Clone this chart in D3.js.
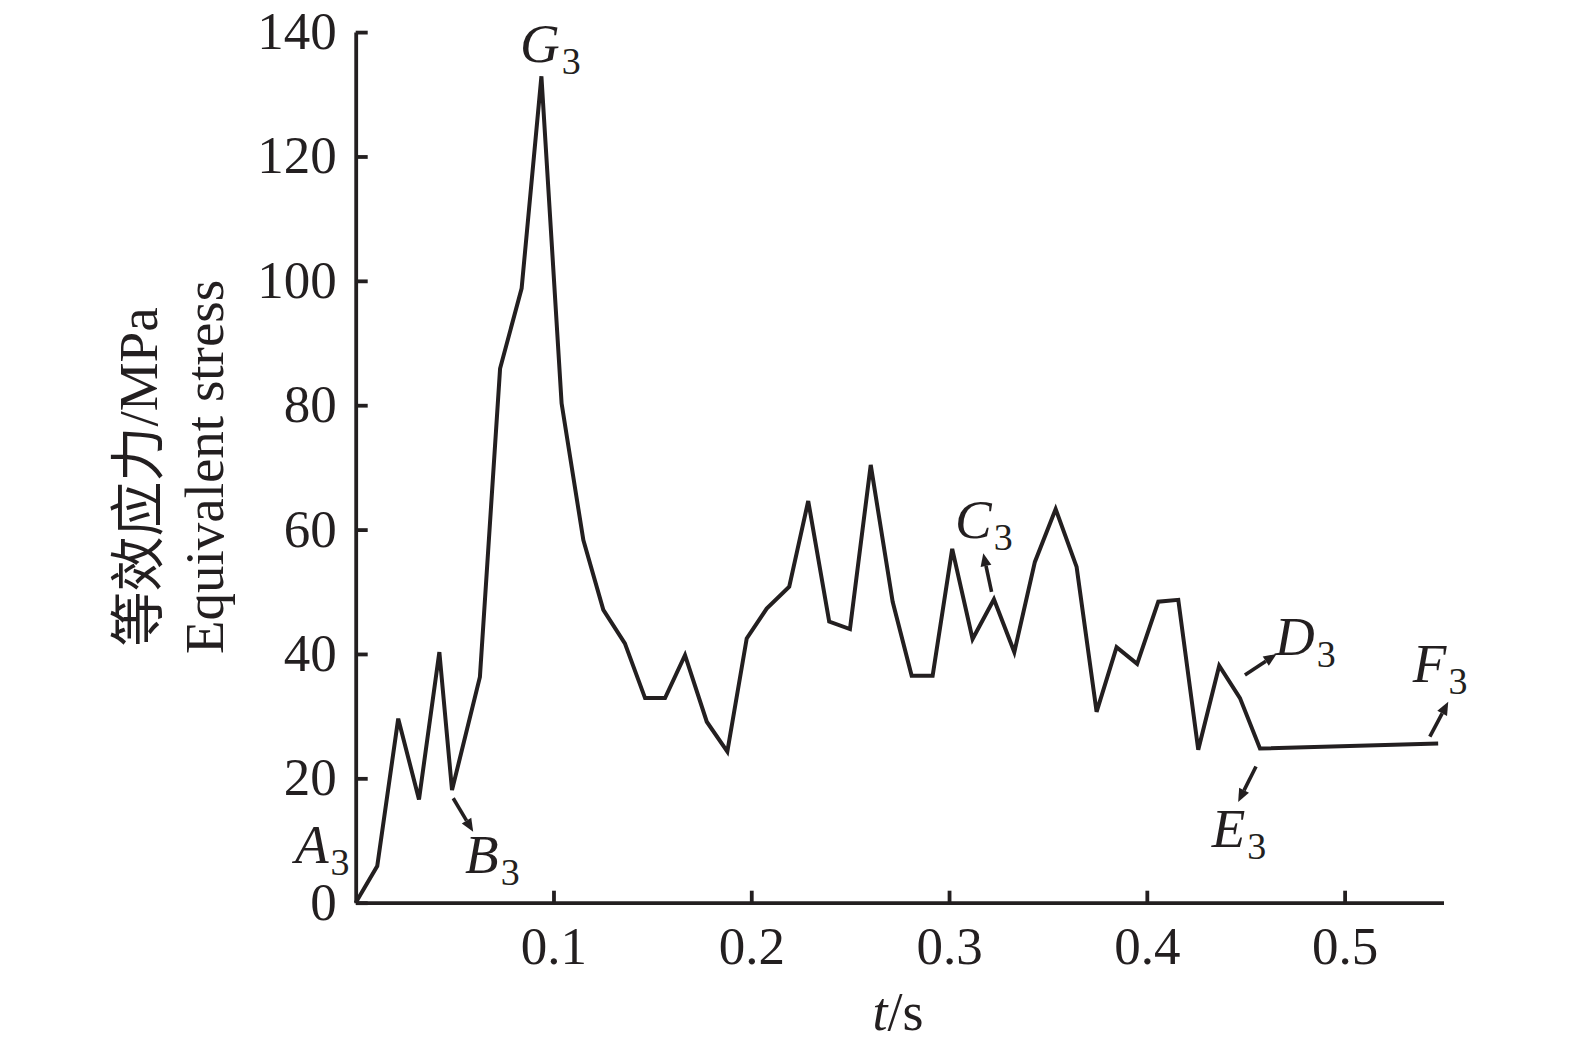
<!DOCTYPE html>
<html>
<head>
<meta charset="utf-8">
<script src="https://cdn.jsdelivr.net/npm/d3@7"></script>
<style>
  body { margin: 0; background: #fff; }
  #graph text { font-family: "Liberation Serif", "Noto Sans CJK SC", serif; fill: #231f20; }
</style>
</head>
<body>
<div id="graph"></div>
<script>
// time (s) and equivalent stress (MPa)
var timeValues = [0, 0.0109, 0.0215, 0.0320, 0.0423, 0.0487, 0.0628, 0.0730, 0.0839, 0.0939,
  0.1041, 0.1151, 0.1252, 0.1361, 0.1463, 0.1564, 0.1665, 0.1775, 0.1879, 0.1977,
  0.2078, 0.2192, 0.2288, 0.2394, 0.2499, 0.2604, 0.2715, 0.2811, 0.2917, 0.3016,
  0.3119, 0.3227, 0.3330, 0.3434, 0.3539, 0.3645, 0.3746, 0.3847, 0.3951, 0.4058,
  0.4159, 0.4260, 0.4366, 0.4471, 0.4572, 0.5473];
var stressValues = [0, 5.9, 29.6, 16.6, 40.3, 18.1, 36.3, 85.9, 98.8, 132.9,
  80.3, 58.3, 47.1, 41.7, 32.9, 32.9, 39.8, 29.1, 24.3, 42.5,
  47.3, 50.8, 64.6, 45.2, 44.0, 70.4, 48.4, 36.5, 36.5, 56.9,
  42.4, 48.8, 40.3, 54.8, 63.3, 54.0, 30.7, 41.1, 38.4, 48.4,
  48.7, 24.6, 38.1, 32.9, 24.8, 25.6];

var xTicks = [0.1, 0.2, 0.3, 0.4, 0.5];
var yTicks = [0, 20, 40, 60, 80, 100, 120, 140];

// point labels: letter, label position (t, stress), arrow from -> to (t, stress) or null
var labelNames = ["A", "B", "G", "C", "D", "E", "F"];
var labelAt = [[-0.0307, 6.4], [0.0553, 4.8], [0.0831, 135.2], [0.3030, 58.6], [0.4648, 39.8], [0.4328, 9.0], [0.5345, 35.5]];
var arrows = [null,
  [0.0493, 16.8, 0.0594, 11.4],
  null,
  [0.3215, 50.0, 0.3173, 56.2],
  [0.4496, 36.6, 0.4656, 40.0],
  [0.4552, 21.9, 0.4462, 16.2],
  [0.5431, 26.7, 0.5524, 32.3]];

var ink = "#231f20";

var svg = d3.select("#graph").append("svg")
    .attr("width", 1575)
    .attr("height", 1048);

// set the ranges
var x = d3.scaleLinear().domain([0, 0.55]).range([355.7, 1443.5]);
var y = d3.scaleLinear().domain([0, 140]).range([902.7, 32.1]);

var data = timeValues.map(function(t, i) { return {t: t, v: stressValues[i]}; });

var valueline = d3.line()
    .x(function(d) { return x(d.t); })
    .y(function(d) { return y(d.v); });

svg.append("path")
    .datum(data)
    .attr("d", valueline)
    .attr("fill", "none")
    .attr("stroke", ink)
    .attr("stroke-width", 4);

// Y axis, ticks pointing inward
var yAxis = svg.append("g")
    .attr("transform", "translate(" + x(0) + ",0)")
    .call(d3.axisLeft(y).tickValues(yTicks).tickSizeInner(-12).tickSizeOuter(0).tickPadding(19));
yAxis.selectAll("text").attr("font-size", 53).attr("dy", "0.31em");

// X axis
var xAxis = svg.append("g")
    .attr("transform", "translate(0," + y(0) + ")")
    .call(d3.axisBottom(x).tickValues(xTicks).tickSizeInner(-12).tickSizeOuter(0)
      .tickFormat(d3.format(".1f")));
xAxis.selectAll("text").attr("font-size", 53).attr("y", 61).attr("dy", null);

svg.selectAll(".domain, .tick line").attr("stroke", ink).attr("stroke-width", 3.8);
svg.selectAll(".tick text").attr("fill", ink);

// axis titles
var yt = svg.append("g").attr("transform", "translate(157,477) rotate(-90)");
yt.append("text").attr("text-anchor", "middle").attr("font-size", 55).text("等效应力/MPa");
svg.append("text")
    .attr("transform", "translate(223,467) rotate(-90)")
    .attr("text-anchor", "middle")
    .attr("font-size", 55)
    .text("Equivalent stress");

var xt = svg.append("text")
    .attr("x", 898).attr("y", 1030)
    .attr("text-anchor", "middle")
    .attr("font-size", 54);
xt.append("tspan").attr("font-style", "italic").text("t");
xt.append("tspan").text("/s");

// point labels with subscript 3
labelNames.forEach(function(n, i) {
  var lb = svg.append("text")
      .attr("x", x(labelAt[i][0]))
      .attr("y", y(labelAt[i][1]))
      .attr("font-size", 55);
  lb.append("tspan").attr("font-style", "italic").text(n);
  lb.append("tspan").attr("font-size", 38).attr("dx", 2).attr("dy", 12).text("3");
});

// arrows
arrows.forEach(function(a) {
  if (!a) return;
  var x1 = x(a[0]), y1 = y(a[1]), x2 = x(a[2]), y2 = y(a[3]);
  var ang = Math.atan2(y2 - y1, x2 - x1);
  var hl = 13, hw = 5.5;
  var bx = x2 - hl * Math.cos(ang), by = y2 - hl * Math.sin(ang);
  svg.append("line")
      .attr("x1", x1).attr("y1", y1).attr("x2", bx).attr("y2", by)
      .attr("stroke", ink).attr("stroke-width", 3.6);
  svg.append("path")
      .attr("d", "M" + x2 + "," + y2 +
        "L" + (bx + hw * Math.sin(ang)) + "," + (by - hw * Math.cos(ang)) +
        "L" + (bx - hw * Math.sin(ang)) + "," + (by + hw * Math.cos(ang)) + "Z")
      .attr("fill", ink);
});
</script>
</body>
</html>
